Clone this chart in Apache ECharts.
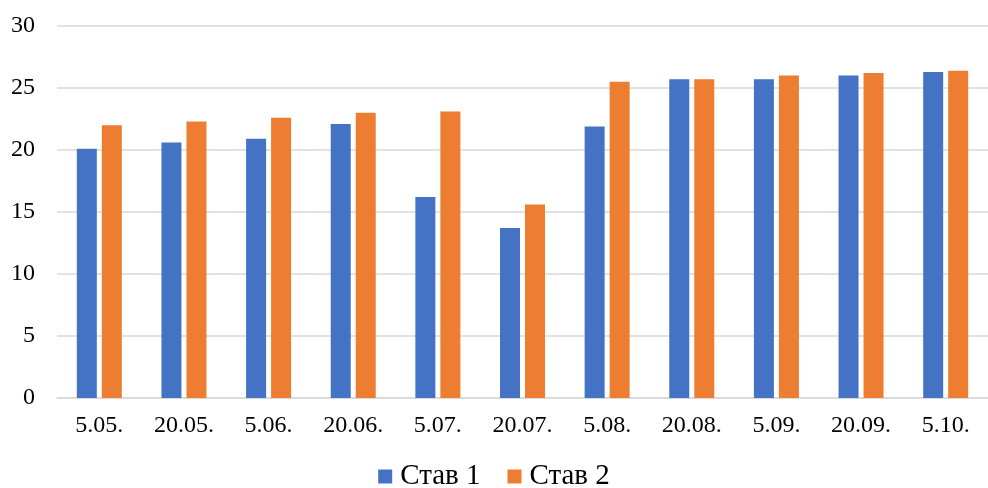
<!DOCTYPE html>
<html><head><meta charset="utf-8">
<script src="https://cdn.jsdelivr.net/npm/echarts@6/dist/echarts.min.js"></script>
<style>html,body{margin:0;padding:0;background:#fff}#c{width:988px;height:488px}</style>
</head><body><div id="c"></div>
<script>
const categories = ['5.05.', '20.05.', '5.06.', '20.06.', '5.07.', '20.07.', '5.08.', '20.08.', '5.09.', '20.09.', '5.10.'];
const stav1 = [20.1, 20.6, 20.9, 22.1, 16.2, 13.7, 21.9, 25.7, 25.7, 26.0, 26.3];
const stav2 = [22.0, 22.3, 22.6, 23.0, 23.1, 15.6, 25.5, 25.7, 26.0, 26.2, 26.4];
const seriesNames = ['Став 1', 'Став 2'];
const font = 'Liberation Serif';
const chart = echarts.init(document.getElementById('c'));
chart.setOption({
  animation: false,
  grid: { left: 57, top: 26, width: 946, height: 372, containLabel: false },
  legend: {
    top: 457, left: 'center', itemWidth: 14, itemHeight: 14, itemGap: 27,
    icon: 'rect',
    textStyle: { fontFamily: font, fontSize: 29, color: '#000', padding: [0, 0, 0, 3] },
    data: seriesNames
  },
  xAxis: {
    type: 'category', data: categories,
    axisLine: { lineStyle: { color: '#d9d9d9', width: 1.5 } },
    axisTick: { show: false },
    axisLabel: { fontFamily: font, fontSize: 24, color: '#000', margin: 16 }
  },
  yAxis: {
    type: 'value', min: 0, max: 30, interval: 5,
    axisLine: { show: false }, axisTick: { show: false },
    splitLine: { lineStyle: { color: '#d9d9d9', width: 1.5 } },
    axisLabel: { fontFamily: font, fontSize: 24, color: '#000', margin: 22 }
  },
  series: [
    { name: seriesNames[0], type: 'bar', data: stav1, barWidth: 20, barGap: '25%', itemStyle: { color: '#4472C4' } },
    { name: seriesNames[1], type: 'bar', data: stav2, barWidth: 20, itemStyle: { color: '#ED7D31' } }
  ]
});
</script></body></html>
